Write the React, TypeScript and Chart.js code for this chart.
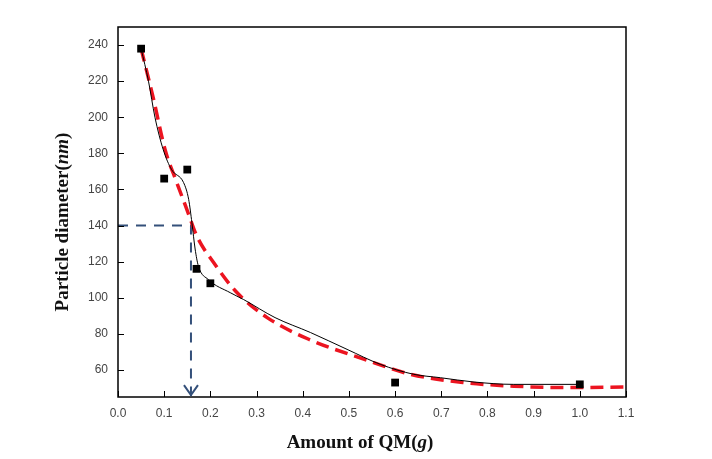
import React, { useEffect, useRef } from 'react';
import { Chart, registerables } from 'chart.js';

Chart.register(...registerables);

// Measured particle diameters (black squares)
const measuredX = [0.05, 0.1, 0.15, 0.17, 0.2, 0.6, 1.0];
const measuredY = [238, 166, 171, 116, 108, 53, 52];

// Smooth connecting curve (thin black line)
const smoothX = [0.05, 0.066, 0.08, 0.098, 0.116, 0.142, 0.153, 0.16, 0.167, 0.174, 0.196, 0.243, 0.272, 0.34, 0.417, 0.496, 0.568, 0.64, 0.698, 0.771, 0.857, 1.0];
const smoothY = [238, 220, 200, 182, 171, 163.8, 154.5, 141.6, 127, 117.6, 110, 102.8, 99, 89, 80.7, 71.4, 63.1, 57.6, 55.7, 53.3, 52, 52];

// Fitted decay curve (red dashed)
const fitX = [0.05, 0.077, 0.102, 0.127, 0.149, 0.171, 0.207, 0.257, 0.323, 0.413, 0.532, 0.633, 0.749, 0.857, 0.973, 1.1];
const fitY = [238, 210, 182, 164, 149, 134, 119.5, 103, 89, 77, 66, 57.6, 53, 51, 50.2, 50.5];

// Guide line (blue dashed, ending in an arrow)
const guideX = [0, 0.158, 0.158];
const guideY = [140, 140, 45.5];

// Axis ticks
const xTicks = [0.0, 0.1, 0.2, 0.3, 0.4, 0.5, 0.6, 0.7, 0.8, 0.9, 1.0, 1.1];
const yTicks = [60, 80, 100, 120, 140, 160, 180, 200, 220, 240];

const xTitle: [string, boolean][] = [['Amount of QM(', false], ['g', true], [')', false]];
const yTitle: [string, boolean][] = [['Particle diameter(', false], ['nm', true], [')', false]];

const toPts = (xs: number[], ys: number[]) => xs.map((x, i) => ({ x, y: ys[i] }));

function drawMixed(ctx: CanvasRenderingContext2D, parts: [string, boolean][], cx: number, cy: number) {
  const fontFor = (it: boolean) => `${it ? 'italic ' : ''}bold 19px "Liberation Serif", "Times New Roman", serif`;
  let total = 0;
  parts.forEach(([s, it]) => { ctx.font = fontFor(it); total += ctx.measureText(s).width; });
  let x = cx - total / 2;
  ctx.textBaseline = 'middle';
  ctx.textAlign = 'left';
  ctx.fillStyle = '#111';
  parts.forEach(([s, it]) => {
    ctx.font = fontFor(it);
    ctx.fillText(s, x, cy);
    x += ctx.measureText(s).width;
  });
}

const decor = {
  id: 'decor',
  afterDatasetsDraw(chart: any) {
    const { ctx, chartArea: a, scales } = chart;
    ctx.save();
    // inner tick marks
    ctx.strokeStyle = '#000';
    ctx.lineWidth = 1;
    scales.x.ticks.forEach((t: any) => {
      const px = Math.round(scales.x.getPixelForValue(t.value)) + 0.5;
      ctx.beginPath(); ctx.moveTo(px, a.bottom); ctx.lineTo(px, a.bottom - 6); ctx.stroke();
    });
    scales.y.ticks.forEach((t: any) => {
      const py = Math.round(scales.y.getPixelForValue(t.value)) + 0.5;
      ctx.beginPath(); ctx.moveTo(a.left, py); ctx.lineTo(a.left + 6, py); ctx.stroke();
    });
    // frame
    ctx.lineWidth = 1.5;
    ctx.strokeRect(a.left, a.top, a.right - a.left, a.bottom - a.top);
    // arrow head on guide line
    const meta = chart.getDatasetMeta(3);
    const last = meta.data[meta.data.length - 1];
    if (last) {
      ctx.strokeStyle = '#34507a';
      ctx.lineWidth = 2;
      ctx.beginPath();
      ctx.moveTo(last.x - 7, last.y - 11);
      ctx.lineTo(last.x, last.y - 1);
      ctx.lineTo(last.x + 7, last.y - 11);
      ctx.stroke();
    }
    // axis titles
    drawMixed(ctx, xTitle, 360, 443);
    ctx.translate(63, 222);
    ctx.rotate(-Math.PI / 2);
    drawMixed(ctx, yTitle, 0, 0);
    ctx.restore();
  },
};

export default function App() {
  const ref = useRef<HTMLCanvasElement>(null);
  useEffect(() => {
    document.body.style.margin = '0';
    const chart = new Chart(ref.current!, {
      type: 'scatter',
      data: {
        datasets: [
          {
            data: toPts(measuredX, measuredY),
            pointStyle: 'rect',
            pointRadius: 5.5,
            backgroundColor: '#000',
            borderColor: '#000',
            borderWidth: 0,
            showLine: false,
          },
          {
            data: toPts(smoothX, smoothY),
            showLine: true,
            borderColor: '#000',
            borderWidth: 1,
            pointRadius: 0,
            cubicInterpolationMode: 'monotone',
          },
          {
            data: toPts(fitX, fitY),
            showLine: true,
            borderColor: 'rgb(236,20,32)',
            borderWidth: 3.5,
            borderDash: [13, 7],
            pointRadius: 0,
            cubicInterpolationMode: 'monotone',
            clip: 6,
          },
          {
            data: toPts(guideX, guideY),
            showLine: true,
            borderColor: '#34507a',
            borderWidth: 2,
            borderDash: [10, 8],
            pointRadius: 0,
            tension: 0,
          },
        ],
      } as any,
      options: {
        animation: false,
        responsive: true,
        maintainAspectRatio: false,
        layout: { padding: { top: 27, right: 86, left: 0, bottom: 0 } },
        plugins: { legend: { display: false }, tooltip: { enabled: false } },
        scales: {
          x: {
            type: 'linear',
            min: 0,
            max: 1.1,
            grid: { display: false },
            border: { display: false },
            afterBuildTicks: (s: any) => { s.ticks = xTicks.map((v) => ({ value: v })); },
            afterFit: (s: any) => { s.height = 62; },
            ticks: {
              padding: 1,
              color: '#444',
              font: { family: '"Liberation Sans", Arial, sans-serif', size: 12 },
              callback: (v: any) => Number(v).toFixed(1),
              maxRotation: 0,
              autoSkip: false,
            },
          },
          y: {
            type: 'linear',
            min: 45,
            max: 250,
            grid: { display: false },
            border: { display: false },
            afterBuildTicks: (s: any) => { s.ticks = yTicks.map((v) => ({ value: v })); },
            afterFit: (s: any) => { s.width = 118; },
            ticks: {
              padding: 2,
              color: '#444',
              font: { family: '"Liberation Sans", Arial, sans-serif', size: 12 },
              autoSkip: false,
            },
          },
        },
      } as any,
      plugins: [decor],
    });
    return () => chart.destroy();
  }, []);
  return (
    <div style={{ width: 712, height: 459, position: 'relative' }}>
      <canvas ref={ref} />
    </div>
  );
}
